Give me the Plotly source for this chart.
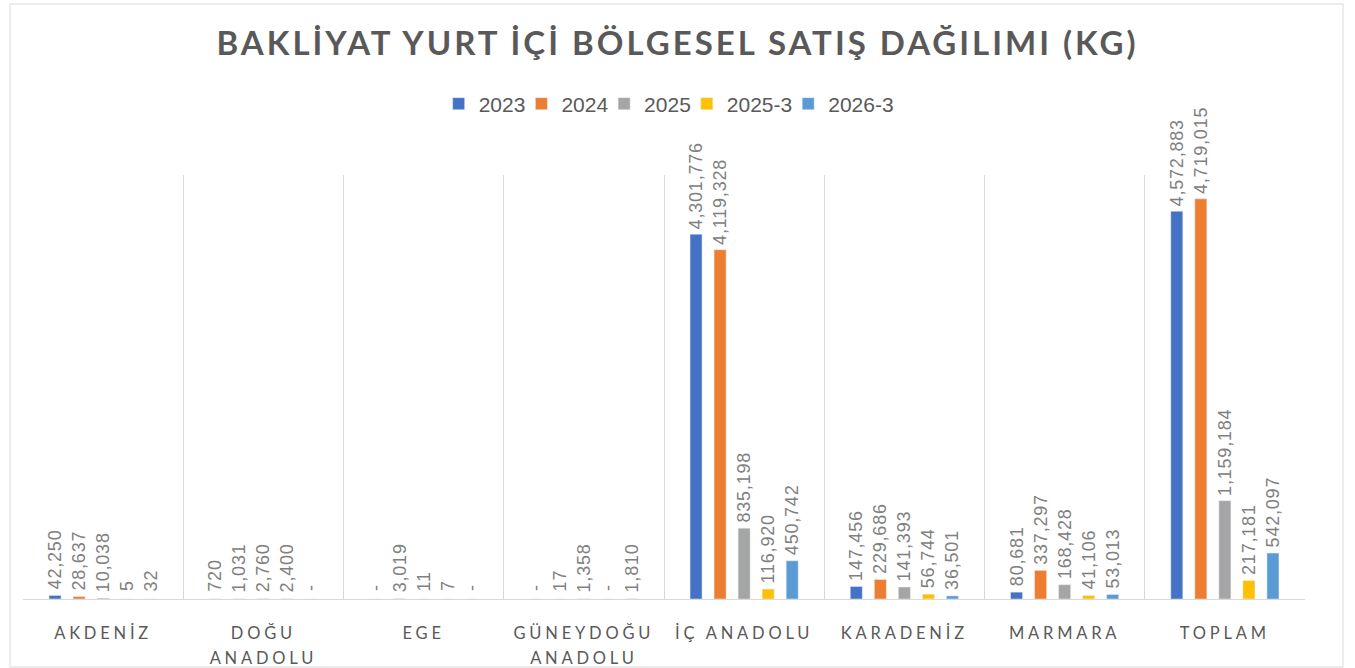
import plotly.graph_objects as go

categories = ["AKDENİZ", "DOĞU<br>ANADOLU", "EGE", "GÜNEYDOĞU<br>ANADOLU",
              "İÇ ANADOLU", "KARADENİZ", "MARMARA", "TOPLAM"]
series_names = ["2023", "2024", "2025", "2025-3", "2026-3"]
v2023 = [42250, 720, 0, 0, 4301776, 147456, 80681, 4572883]
v2024 = [28637, 1031, 3019, 17, 4119328, 229686, 337297, 4719015]
v2025 = [10038, 2760, 11, 1358, 835198, 141393, 168428, 1159184]
v2025_3 = [5, 2400, 7, 0, 116920, 56744, 41106, 217181]
v2026_3 = [32, 0, 0, 1810, 450742, 36501, 53013, 542097]
colors = ["#4472C4", "#ED7D31", "#A5A5A5", "#FFC000", "#5B9BD5"]

fig = go.Figure()
for name, vals, col in zip(series_names, [v2023, v2024, v2025, v2025_3, v2026_3], colors):
    labels = ["\u00a0" + (f"{v:,}" if v != 0 else "-") for v in vals]
    fig.add_trace(go.Bar(
        name=name, x=categories, y=vals, marker_color=col,
        text=labels, textposition="outside", textangle=-90,
        constraintext="none", cliponaxis=False,
        textfont=dict(family="Liberation Sans", size=18, color="#808080"),
        hoverinfo="skip",
    ))

L, R, T, B = 23, 50, 175, 69
W, H = 1355, 668
pw, ph = W - L - R, H - T - B

fig.update_layout(
    width=W, height=H,
    margin=dict(l=L, r=R, t=T, b=B),
    paper_bgcolor="white", plot_bgcolor="white",
    barmode="group", bargap=0.25, bargroupgap=0.5,
    title=dict(text="<b>BAKLİYAT YURT İÇİ BÖLGESEL SATIŞ DAĞILIMI (KG)</b>",
               x=0.5, xanchor="center", y=1 - 43 / H, yanchor="middle",
               font=dict(family="Lato", size=33, color="#595959")),
    legend=dict(orientation="h", x=(673 - L) / pw, xanchor="center",
                y=(599 - 104) / ph, yanchor="middle",
                font=dict(family="Liberation Sans", size=21, color="#595959"),
                itemwidth=30, traceorder="normal"),
    xaxis=dict(showgrid=True, gridcolor="#d9d9d9", gridwidth=1,
               tickson="boundaries", ticks="", showline=True,
               linecolor="#d9d9d9", linewidth=1, automargin=False,
               ticklabelstandoff=19,
               tickfont=dict(family="Lato", size=16.5, color="#595959")),
    yaxis=dict(range=[0, 5000000], visible=False, showgrid=False),
    shapes=[dict(type="rect", xref="paper", yref="paper",
                 x0=(10 - L) / pw, x1=(1343 - L) / pw,
                 y0=(599 - 667) / ph, y1=(599 - 4) / ph,
                 line=dict(color="#d9d9d9", width=1), layer="below")],
    showlegend=True,
)

post = """
document.body.style.margin='0';
document.querySelectorAll('.gtitle').forEach(function(e){e.style.letterSpacing='3px';});
document.querySelectorAll('.xtick text').forEach(function(e){
  e.style.letterSpacing='3.8px';
  var ls = e.querySelectorAll('tspan.line');
  for (var i=1;i<ls.length;i++){ ls[i].setAttribute('dy','25px'); }
});
document.querySelectorAll('text.bartext').forEach(function(e){e.style.letterSpacing='0.8px';});
(function(){
  var tr = Array.prototype.slice.call(document.querySelectorAll('.legend .traces'));
  if (!tr.length) return;
  var pos = tr.map(function(t){
    var m = /translate\\(([-\\d.e]+)[ ,]+([-\\d.e]+)\\)/.exec(t.getAttribute('transform')||'');
    return m ? [parseFloat(m[1]), parseFloat(m[2])] : [0,0];
  });
  var tw = tr.map(function(t){ var x=t.querySelector('text.legendtext'); return x ? x.getComputedTextLength() : 0; });
  var n = tr.length;
  var oldC = ((pos[0][0]+14) + (pos[n-1][0]+40+tw[n-1]))/2;
  var o = [0];
  for (var i=1;i<n;i++){ o.push(o[i-1] + 36 + tw[i-1]); }
  var newC = (14 + (o[n-1]+40+tw[n-1]))/2;
  var shift = oldC - newC - 4;
  for (var j=0;j<n;j++){ tr[j].setAttribute('transform','translate('+(o[j]+shift)+','+pos[j][1]+')'); }
})();
"""
fig.write_html("out.html", post_script=post, config={"displayModeBar": False})
